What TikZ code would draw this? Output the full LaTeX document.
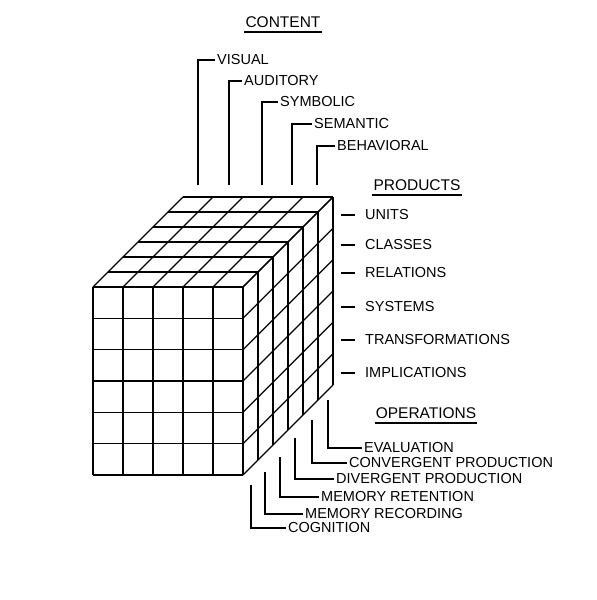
\documentclass[tikz,border=0pt]{standalone}
\usepackage{fontspec}
\setmainfont{Liberation Sans}
\usetikzlibrary{positioning}

\begin{document}
\begin{tikzpicture}[
  x=1pt, y=-1pt,
  cubeline/.style={line width=1.2pt, line join=round},
  leader/.style={line width=1.1pt},
  axislabel/.style={anchor=west, inner sep=2pt, font=\fontsize{14.5}{17}\selectfont},
  heading/.style={inner sep=1pt, font=\fontsize{15.5}{18}\selectfont},
  underrule/.style={line width=1.8pt}
]
  \useasboundingbox (0,0) rectangle (597,600);

  \foreach \i in {0,...,5} {
    \draw[cubeline] (93+30*\i,287) -- (93+30*\i,475);
    \draw[cubeline] (93+30*\i,287) -- (183+30*\i,197);
  }
  \foreach \j in {0,...,6} {
    \draw[cubeline] (93,287+31.33*\j) -- (243,287+31.33*\j);
    \draw[cubeline] (243,287+31.33*\j) -- (333,197+31.33*\j);
    \draw[cubeline] (93+15*\j,287-15*\j) -- (243+15*\j,287-15*\j);
    \draw[cubeline] (243+15*\j,287-15*\j) -- (243+15*\j,475-15*\j);
  }

  \node[heading] (content) at (283,22) {CONTENT};
  \draw[underrule] ([yshift=-3pt]content.south west) -- ([yshift=-3pt]content.south east);

  \node[axislabel] (visual) at (215,60) {VISUAL};
  \node[axislabel] (auditory) at (242,81) {AUDITORY};
  \node[axislabel] (symbolic) at (278,102) {SYMBOLIC};
  \node[axislabel] (semantic) at (312,124) {SEMANTIC};
  \node[axislabel] (behavioral) at (335,146) {BEHAVIORAL};
  \coordinate (visual-foot) at (198,185);
  \coordinate (auditory-foot) at (229,185);
  \coordinate (symbolic-foot) at (262,185);
  \coordinate (semantic-foot) at (292,185);
  \coordinate (behavioral-foot) at (317,185);
  \draw[leader] (visual-foot) |- (visual.west);
  \draw[leader] (auditory-foot) |- (auditory.west);
  \draw[leader] (symbolic-foot) |- (symbolic.west);
  \draw[leader] (semantic-foot) |- (semantic.west);
  \draw[leader] (behavioral-foot) |- (behavioral.west);

  \node[heading] (products) at (417,185) {PRODUCTS};
  \draw[underrule] ([yshift=-3pt]products.south west) -- ([yshift=-3pt]products.south east);

  \node[axislabel] (units) at (363,215) {UNITS};
  \node[axislabel] (classes) at (363,245) {CLASSES};
  \node[axislabel] (relations) at (363,273) {RELATIONS};
  \node[axislabel] (systems) at (363,307) {SYSTEMS};
  \node[axislabel] (transformations) at (363,340) {TRANSFORMATIONS};
  \node[axislabel] (implications) at (363,373) {IMPLICATIONS};
  \coordinate (units-foot) at (341,215);
  \coordinate (classes-foot) at (341,245);
  \coordinate (relations-foot) at (341,273);
  \coordinate (systems-foot) at (341,307);
  \coordinate (transformations-foot) at (341,340);
  \coordinate (implications-foot) at (341,373);
  \draw[leader, shorten >=8pt] (units-foot) -- (units.west);
  \draw[leader, shorten >=8pt] (classes-foot) -- (classes.west);
  \draw[leader, shorten >=8pt] (relations-foot) -- (relations.west);
  \draw[leader, shorten >=8pt] (systems-foot) -- (systems.west);
  \draw[leader, shorten >=8pt] (transformations-foot) -- (transformations.west);
  \draw[leader, shorten >=8pt] (implications-foot) -- (implications.west);

  \node[heading] (operations) at (426,413) {OPERATIONS};
  \draw[underrule] ([yshift=-3pt]operations.south west) -- ([yshift=-3pt]operations.south east);

  \node[axislabel] (evaluation) at (362,448) {EVALUATION};
  \node[axislabel] (convergent) at (347,463) {CONVERGENT PRODUCTION};
  \node[axislabel] (divergent) at (334,479) {DIVERGENT PRODUCTION};
  \node[axislabel] (retention) at (319,497) {MEMORY RETENTION};
  \node[axislabel] (recording) at (303,514) {MEMORY RECORDING};
  \node[axislabel] (cognition) at (286,528) {COGNITION};
  \coordinate (evaluation-foot) at (328,400);
  \coordinate (convergent-foot) at (312,420);
  \coordinate (divergent-foot) at (295,438);
  \coordinate (retention-foot) at (280,457);
  \coordinate (recording-foot) at (265,472);
  \coordinate (cognition-foot) at (251,485);
  \draw[leader] (evaluation-foot) |- (evaluation.west);
  \draw[leader] (convergent-foot) |- (convergent.west);
  \draw[leader] (divergent-foot) |- (divergent.west);
  \draw[leader] (retention-foot) |- (retention.west);
  \draw[leader] (recording-foot) |- (recording.west);
  \draw[leader] (cognition-foot) |- (cognition.west);
\end{tikzpicture}
\end{document}
